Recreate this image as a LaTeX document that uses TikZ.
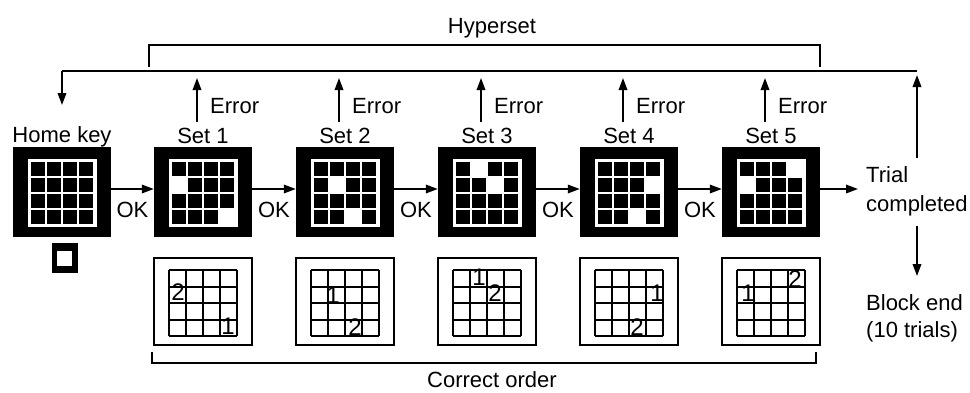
\documentclass[tikz,border=0pt]{standalone}
\usepackage{fontspec}
\setmainfont{Liberation Sans}
\usetikzlibrary{arrows.meta}

% 4x4 stimulus cells inside a black frame node: white field, black cells
\newcommand\stimcells[1]{%
  \fill[white] ([shift={(-34.5,-33)}]#1.center) rectangle ([shift={(34.5,35)}]#1.center);
  \foreach \r in {0,...,3}{\foreach \c in {0,...,3}{%
    \fill[black] ([shift={(\c*16-30.75,\r*16-29.75)}]#1.center) rectangle ++(13.5,13.5);}}%
}
% blank out selected cells (row/column, counted from 0)
\newcommand\blankcells[2]{%
  \foreach \r/\c in {#2}{%
    \fill[white] ([shift={(\c*16-31.5,\r*16-30.5)}]#1.center) rectangle ++(15,15);}%
}
% open 4x4 grid inside a thin frame node
\newcommand\keygrid[1]{%
  \begin{scope}[shift={([yshift=-1.5pt]#1.center)}]
    \foreach \i in {0,...,4}{%
      \draw[line width=2pt] (-34+\i*17,-33) -- (-34+\i*17,33);
      \draw[line width=2pt] (-34,-33+\i*16.5) -- (34,-33+\i*16.5);}
  \end{scope}%
}

\begin{document}
\begin{tikzpicture}[x=1pt,y=-1pt,
  lbl/.style={font=\fontsize{22}{29}\selectfont, inner sep=1pt},
  num/.style={font=\fontsize{24}{26}\selectfont, inner sep=0pt},
  stim/.style={fill=black, draw=none, minimum width=98pt, minimum height=90pt, inner sep=0pt},
  keybox/.style={draw=black, line width=2.3pt, minimum width=98pt, minimum height=87pt, inner sep=0pt},
  conn/.style={line width=1.8pt},
  arr/.style={conn, -{Triangle[length=12pt,width=8.5pt]}}]
\useasboundingbox (0,0) rectangle (970,392);

% ---- stimulus displays ----
\node[stim] (home) at (62,192) {};
\stimcells{home}
\foreach \n/\x in {1/203,2/345,3/487,4/629,5/771}{
  \node[stim] (s\n) at (\x,192) {};
  \stimcells{s\n}
}
\blankcells{s1}{1/0,3/3}
\blankcells{s2}{1/1,3/2}
\blankcells{s3}{0/1,1/2}
\blankcells{s4}{1/3,3/2}
\blankcells{s5}{0/3,1/0}

% small home-key marker
\node[fill=black, minimum width=26pt, minimum height=30pt, inner sep=0pt] (sq) at (64.5,258) {};
\fill[white] ([shift={(-8,-7)}]sq.center) rectangle ([shift={(7,8)}]sq.center);

% ---- labels above displays ----
\node[lbl, anchor=base] (hk) at (62,142) {Home key};
\foreach \n/\x in {1/203,2/345,3/487,4/629,5/771}{
  \node[lbl, anchor=base] (ls\n) at (\x,143) {Set \n};
  \node[lbl, anchor=base west] (er\n) at (\x+6,113) {Error};
  \coordinate (t\n) at (\x-6,78);
  \draw[arr] ([xshift=-6pt,yshift=4pt]ls\n.north) -- (t\n);
}

% ---- OK transitions ----
\draw[arr] ([yshift=3pt]home.east) -- ([yshift=3pt]s1.west);
\draw[arr] ([yshift=3pt]s1.east) -- ([yshift=3pt]s2.west);
\draw[arr] ([yshift=3pt]s2.east) -- ([yshift=3pt]s3.west);
\draw[arr] ([yshift=3pt]s3.east) -- ([yshift=3pt]s4.west);
\draw[arr] ([yshift=3pt]s4.east) -- ([yshift=3pt]s5.west);
\foreach \n/\x in {1/132.5,2/274,3/416,4/558,5/700}{
  \node[lbl, anchor=base] (ok\n) at (\x,217) {OK};
}

% ---- trial end ----
\node[lbl, anchor=west, align=left] (tc) at (865,191) {Trial\\completed};
\coordinate (tcend) at (858,189);
\draw[arr] ([yshift=3pt]s5.east) -- (tcend);
\node[lbl, anchor=west, align=left, font=\fontsize{22}{27}\selectfont] (be) at (865,318) {Block end\\(10 trials)};
\coordinate (upfrom) at (917,158);
\coordinate (uptip) at (917,75);
\coordinate (dnfrom) at (917,226);
\coordinate (dntip) at (917,276);
\draw[arr] (upfrom) -- (uptip);
\draw[arr] (dnfrom) -- (dntip);

% ---- feedback line back to the home key ----
\coordinate (fbR) at (917,71);
\coordinate (fbL) at (62,71);
\coordinate (fbtip) at (62,105);
\draw[conn] (fbR) -- (fbL);
\draw[arr] (fbL) -- (fbtip);

% ---- hyperset bracket ----
\node[lbl, anchor=base] (hyp) at (492,33) {Hyperset};
\coordinate (hyL) at (149,67);
\coordinate (hyR) at (820,67);
\draw[conn] (hyL) -- ++(0,-22) -| (hyR);

% ---- correct-order keys ----
\foreach \n/\x in {1/203,2/345,3/487,4/629,5/771}{
  \node[keybox] (c\n) at (\x,301.5) {};
  \keygrid{c\n}
}
\node[num] at (178,292) {2};  \node[num] at (228,326) {1};
\node[num] at (333,295) {1};  \node[num] at (355,327) {2};
\node[num] at (479,277) {1};  \node[num] at (495,293) {2};
\node[num] at (657,293) {1};  \node[num] at (637,327) {2};
\node[num] at (748,293) {1};  \node[num] at (795,279) {2};

% ---- correct-order bracket ----
\coordinate (coL) at (152,352);
\coordinate (coR) at (816,352);
\draw[conn] (coL) -- ++(0,11) -| (coR);
\node[lbl, anchor=base] (cor) at (492,387) {Correct order};
\end{tikzpicture}
\end{document}
